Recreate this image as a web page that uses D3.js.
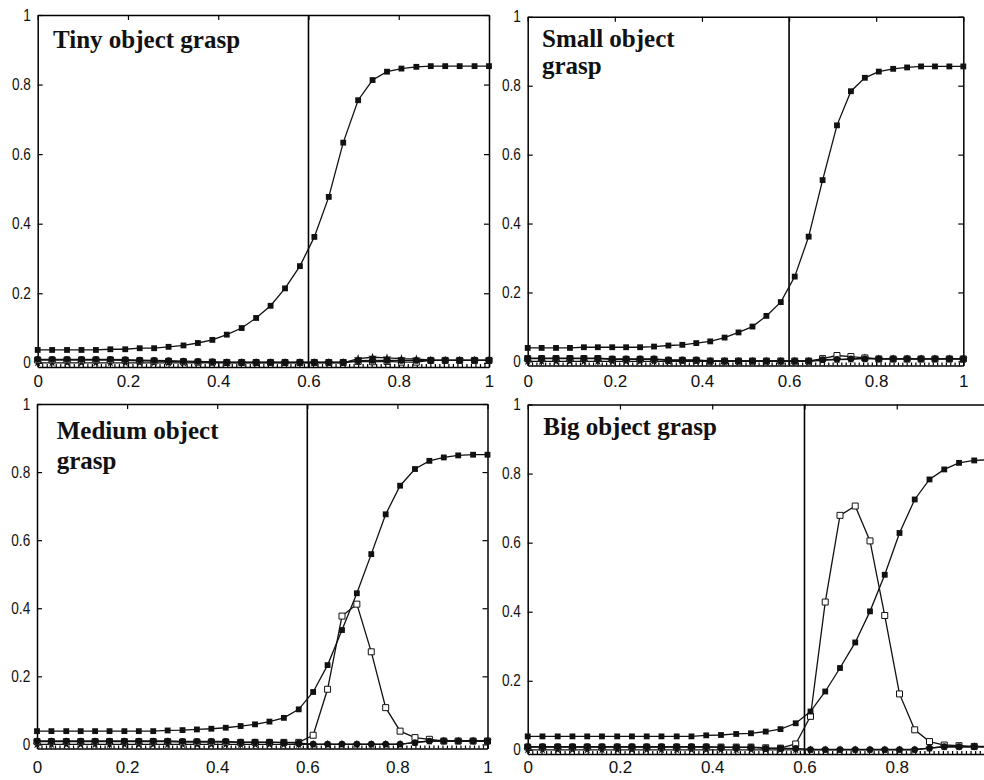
<!DOCTYPE html>
<html>
<head>
<meta charset="utf-8">
<script src="https://cdn.jsdelivr.net/npm/d3@7"></script>
<style>
  body { margin: 0; background: #fff; }
  svg { display: block; }
</style>
</head>
<body>
<svg width="984" height="780"></svg>
<script>
// sampling grid shared by every curve (32 samples)
const xGrid = [0.000, 0.032, 0.065, 0.097, 0.129, 0.161, 0.194, 0.226, 0.258, 0.290, 0.323,
  0.355, 0.387, 0.419, 0.452, 0.484, 0.516, 0.548, 0.581, 0.613, 0.645, 0.677, 0.710,
  0.742, 0.774, 0.806, 0.839, 0.871, 0.903, 0.935, 0.968, 1.000];
const xTicks = [0, 0.2, 0.4, 0.6, 0.8, 1];
const yTicks = [0, 0.2, 0.4, 0.6, 0.8, 1];
const threshold = 0.6;
const titles = [["Tiny object grasp"], ["Small object", "grasp"], ["Medium object", "grasp"], ["Big object grasp"]];

// Tiny
const tinySquares = [0.037, 0.037, 0.037, 0.037, 0.037, 0.039, 0.039, 0.042, 0.042, 0.046, 0.050, 0.057, 0.066, 0.081, 0.100, 0.129,
  0.164, 0.214, 0.278, 0.362, 0.477, 0.633, 0.755, 0.813, 0.837, 0.846, 0.851, 0.853, 0.853, 0.853, 0.853, 0.853];
const tinyDots = [0.010, 0.010, 0.010, 0.010, 0.010, 0.010, 0.009, 0.008, 0.007, 0.006, 0.005, 0.004, 0.003, 0.002, 0.002, 0.002,
  0.002, 0.002, 0.002, 0.002, 0.002, 0.002, 0.006, 0.007, 0.007, 0.007, 0.007, 0.007, 0.007, 0.007, 0.007, 0.007];
const tinyOpen = [0.008, 0.008, 0.008, 0.008, 0.008, 0.008, 0.007, 0.006, 0.005, 0.004, 0.003, 0.002, 0.002, 0.001, 0.001, 0.001,
  0.001, 0.001, 0.001, 0.001, 0.001, 0.001, 0.004, 0.003, 0.004, 0.002, 0.002, 0.007, 0.007, 0.007, 0.007, 0.007];
const tinyStars = [0, 0, 0, 0, 0, 0, 0, 0, 0, 0, 0, 0, 0, 0, 0, 0,
  0, 0, 0, 0, 0, 0, 0.012, 0.016, 0.014, 0.012, 0.011, 0.008, 0.008, 0.008, 0.008, 0.008];

// Small
const smallSquares = [0.039, 0.039, 0.039, 0.039, 0.041, 0.041, 0.041, 0.041, 0.041, 0.043, 0.046, 0.048, 0.053, 0.058, 0.069, 0.084,
  0.101, 0.132, 0.172, 0.246, 0.362, 0.526, 0.685, 0.784, 0.823, 0.841, 0.849, 0.853, 0.856, 0.856, 0.856, 0.856];
const smallDots = [0.009, 0.009, 0.009, 0.009, 0.009, 0.009, 0.007, 0.007, 0.007, 0.007, 0.004, 0.004, 0.004, 0.001, 0.001, 0.001,
  0.001, 0.001, 0.001, 0.001, 0.001, 0.005, 0.006, 0.007, 0.007, 0.007, 0.007, 0.007, 0.007, 0.007, 0.007, 0.007];
const smallOpen = [0.008, 0.008, 0.008, 0.008, 0.008, 0.008, 0.006, 0.006, 0.006, 0.006, 0.003, 0.003, 0.003, 0.001, 0.001, 0.001,
  0.001, 0.001, 0.001, 0.001, 0.001, 0.008, 0.017, 0.014, 0.010, 0.007, 0.007, 0.007, 0.007, 0.007, 0.007, 0.007];
const smallStars = [0, 0, 0, 0, 0, 0, 0, 0, 0, 0, 0, 0, 0, 0, 0, 0,
  0, 0, 0, 0, 0, 0.003, 0.005, 0.006, 0.010, 0.007, 0.007, 0.007, 0.007, 0.007, 0.007, 0.007];

// Medium
const mediumSquares = [0.039, 0.039, 0.039, 0.039, 0.039, 0.039, 0.039, 0.039, 0.039, 0.041, 0.042, 0.044, 0.046, 0.049, 0.054, 0.059,
  0.067, 0.078, 0.103, 0.154, 0.233, 0.336, 0.444, 0.559, 0.676, 0.760, 0.809, 0.833, 0.843, 0.849, 0.851, 0.851];
const mediumDots = [0.010, 0.010, 0.010, 0.010, 0.010, 0.010, 0.010, 0.010, 0.010, 0.010, 0.009, 0.009, 0.009, 0.009, 0.007, 0.007,
  0.007, 0.005, 0.004, 0.001, 0.001, 0.001, 0.001, 0.001, 0.001, 0.001, 0.005, 0.010, 0.010, 0.010, 0.010, 0.010];
const mediumOpen = [0.008, 0.008, 0.008, 0.008, 0.008, 0.008, 0.008, 0.008, 0.008, 0.008, 0.007, 0.007, 0.007, 0.007, 0.006, 0.006,
  0.006, 0.006, 0.006, 0.027, 0.162, 0.377, 0.412, 0.272, 0.108, 0.039, 0.020, 0.015, 0.010, 0.010, 0.010, 0.010];
const mediumStars = [0, 0, 0, 0, 0, 0, 0, 0, 0, 0, 0, 0, 0, 0, 0, 0,
  0, 0, 0, 0, 0, 0, 0, 0, 0, 0, 0.006, 0.010, 0.010, 0.010, 0.010, 0.010];

// Big
const bigSquares = [0.039, 0.039, 0.039, 0.039, 0.039, 0.039, 0.039, 0.039, 0.039, 0.039, 0.039, 0.039, 0.042, 0.043, 0.046, 0.048,
  0.053, 0.060, 0.077, 0.111, 0.169, 0.237, 0.311, 0.401, 0.507, 0.628, 0.725, 0.783, 0.812, 0.831, 0.838, 0.840];
const bigDots = [0.009, 0.009, 0.009, 0.009, 0.009, 0.009, 0.009, 0.009, 0.009, 0.009, 0.009, 0.009, 0.009, 0.007, 0.007, 0.007,
  0.004, 0.004, 0.004, 0.001, 0.001, 0.001, 0.001, 0.001, 0.001, 0.001, 0.001, 0.005, 0.009, 0.009, 0.009, 0.009];
const bigOpen = [0.008, 0.008, 0.008, 0.008, 0.008, 0.008, 0.008, 0.008, 0.008, 0.008, 0.008, 0.008, 0.008, 0.008, 0.008, 0.008,
  0.006, 0.005, 0.017, 0.097, 0.428, 0.679, 0.706, 0.605, 0.389, 0.162, 0.058, 0.024, 0.014, 0.012, 0.010, 0.010];
const bigStars = [0, 0, 0, 0, 0, 0, 0, 0, 0, 0, 0, 0, 0, 0, 0, 0,
  0, 0, 0, 0, 0, 0, 0, 0, 0, 0, 0, 0.005, 0.009, 0.009, 0.009, 0.009];

const panels = [
  { title: titles[0], series: [tinyStars, tinyOpen, tinyDots, tinySquares] },
  { title: titles[1], series: [smallStars, smallOpen, smallDots, smallSquares] },
  { title: titles[2], series: [mediumStars, mediumOpen, mediumDots, mediumSquares] },
  { title: titles[3], series: [bigStars, bigOpen, bigDots, bigSquares] }
];

// where each scanned panel sits on the page
const layout = [
  { left: 37.7, right: 489, top: 15, bottom: 367, titleX: 53, titleY: [48], labelY: 387 },
  { left: 527.7, right: 963.3, top: 16.8, bottom: 365.5, titleX: 542, titleY: [46.7, 74], labelY: 387 },
  { left: 37, right: 487.5, top: 404, bottom: 748.5, titleX: 56.7, titleY: [439, 469], labelY: 773 },
  { left: 527.7, right: 989, top: 404.5, bottom: 754, titleX: 543.3, titleY: [435], labelY: 773 }
];

// marker style per series, same order as panels[].series
const markers = [
  { type: d3.symbolStar, size: 24, fill: "#111", stroke: "none" },
  { type: d3.symbolSquare, size: 36, fill: "#fff", stroke: "#111" },
  { type: d3.symbolCircle, size: 36, fill: "#111", stroke: "none" },
  { type: d3.symbolSquare, size: 34, fill: "#111", stroke: "none" }
];

const pageWidth = 984;
const svg = d3.select("svg");
const fmt = d3.format("~g");

panels.forEach(function (p, k) {
  const L = layout[k];
  const x = d3.scaleLinear().domain([0, 1]).range([L.left, L.right]);
  const y = d3.scaleLinear().domain([-0.012, 1]).range([L.bottom, L.top]);
  const g = svg.append("g");

  // fine ruler along the bottom edge
  g.append("g")
    .attr("transform", `translate(0,${L.bottom})`)
    .call(d3.axisBottom(x).tickValues(d3.range(0, 1.0001, 0.01)).tickSize(-3).tickFormat(""))
    .call(a => a.select(".domain").remove())
    .selectAll("line").attr("stroke", "#333").attr("stroke-width", 0.8);

  const labelFont = 17;
  g.append("g")
    .attr("transform", `translate(0,${L.bottom})`)
    .call(d3.axisBottom(x).tickValues(xTicks).tickFormat(fmt).tickSize(-5).tickSizeOuter(0)
      .tickPadding(L.labelY - L.bottom - labelFont * 0.72))
    .attr("class", "xaxis");
  g.append("g")
    .attr("transform", `translate(0,${L.top})`)
    .call(d3.axisTop(x).tickValues(xTicks).tickFormat("").tickSize(-5).tickSizeOuter(0));
  g.append("g")
    .attr("transform", `translate(${L.left},0)`)
    .call(d3.axisLeft(y).tickValues(yTicks).tickFormat(fmt).tickSize(-5).tickSizeOuter(0).tickPadding(8))
    .attr("class", "yaxis");
  g.append("g")
    .attr("transform", `translate(${L.right},0)`)
    .call(d3.axisRight(y).tickValues(yTicks).tickFormat("").tickSize(-5).tickSizeOuter(0));

  g.selectAll(".domain").attr("stroke", "#000").attr("stroke-width", 1.5);
  g.selectAll(".tick line").attr("stroke", "#000").attr("stroke-width", 1.2);
  g.selectAll(".xaxis text")
    .attr("font-family", "'Liberation Sans', Arial, sans-serif")
    .attr("font-size", labelFont).attr("fill", "#111");
  // labels that fall past the page edge are not in the scan
  g.selectAll(".xaxis .tick").filter(d => x(d) > pageWidth - 4).select("text").remove();
  g.selectAll(".yaxis text")
    .attr("font-family", "'Liberation Sans', Arial, sans-serif")
    .attr("font-size", 16).attr("fill", "#111")
    .attr("transform", "scale(0.85,1)");

  // decision threshold
  g.append("line")
    .attr("x1", x(threshold)).attr("x2", x(threshold))
    .attr("y1", y.range()[1]).attr("y2", y.range()[0])
    .attr("stroke", "#000").attr("stroke-width", 1.6);

  const line = d3.line().x((d, i) => x(xGrid[i])).y(d => y(d));

  p.series.forEach(function (vals, s) {
    const m = markers[s];
    g.append("path")
      .datum(vals)
      .attr("d", line)
      .attr("fill", "none")
      .attr("stroke", "#111")
      .attr("stroke-width", 1.3);
    g.append("g")
      .selectAll("path")
      .data(vals)
      .join("path")
      .attr("transform", (d, i) => `translate(${x(xGrid[i])},${y(d)})`)
      .attr("d", d3.symbol().type(m.type).size(m.size))
      .attr("fill", m.fill)
      .attr("stroke", m.stroke)
      .attr("stroke-width", 1);
  });

  g.append("text")
    .attr("font-family", "'Liberation Serif', 'Times New Roman', serif")
    .attr("font-weight", "bold")
    .attr("font-size", 25)
    .attr("fill", "#111")
    .selectAll("tspan")
    .data(p.title)
    .join("tspan")
    .attr("x", L.titleX)
    .attr("y", (d, j) => L.titleY[j])
    .text(d => d);
});
</script>
</body>
</html>
